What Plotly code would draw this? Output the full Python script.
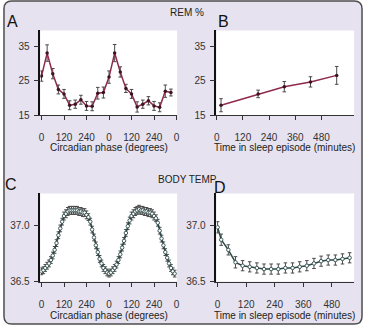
import plotly.graph_objects as go

W, H = 366, 331

# ---- REM % by circadian phase (double plotted, 30-degree bins) ----
rem_phase = [0, 30, 60, 90, 120, 150, 180, 210, 240, 270, 300, 330,
             360, 390, 420, 450, 480, 510, 540, 570, 600, 630, 660, 690]
rem_by_phase = [26.4, 33.1, 27.1, 22.5, 21.2, 17.9, 18.2, 19.5, 17.7, 17.6, 21.4, 21.6,
                26.1, 33.1, 27.6, 22.8, 21.2, 17.4, 18.2, 19.2, 17.7, 17.3, 22.0, 21.6]
rem_by_phase_err = [1.5, 2.4, 1.5, 1.3, 1.3, 1.3, 1.2, 1.3, 1.3, 1.3, 1.7, 1.6,
                    1.8, 2.5, 1.5, 1.2, 1.3, 1.5, 1.2, 1.2, 1.3, 1.3, 1.8, 1.0]

# ---- REM % by time in sleep episode ----
rem_time = [20, 190, 310, 430, 550]
rem_by_time = [17.9, 21.2, 23.3, 24.7, 26.6]
rem_by_time_err = [1.9, 1.1, 1.5, 1.5, 2.6]

# ---- Body temperature by circadian phase (double plotted, 10-degree bins) ----
temp_phase = [0, 10, 20, 30, 40, 50, 60, 70, 80, 90, 100, 110,
              120, 130, 140, 150, 160, 170, 180, 190, 200, 210, 220, 230,
              240, 250, 260, 270, 280, 290, 300, 310, 320, 330, 340, 350,
              360, 370, 380, 390, 400, 410, 420, 430, 440, 450, 460, 470,
              480, 490, 500, 510, 520, 530, 540, 550, 560, 570, 580, 590,
              600, 610, 620, 630, 640, 650, 660, 670, 680, 690, 700, 710]
temp_by_phase = [36.59, 36.60, 36.62, 36.64, 36.66, 36.69, 36.73, 36.78, 36.84, 36.91, 36.97, 37.03,
                 37.08, 37.10, 37.12, 37.13, 37.13, 37.13, 37.13, 37.13, 37.12, 37.12, 37.11, 37.11,
                 37.09, 37.07, 37.03, 36.96, 36.89, 36.82, 36.76, 36.70, 36.66, 36.62, 36.60, 36.58,
                 36.57, 36.58, 36.60, 36.62, 36.65, 36.69, 36.74, 36.80, 36.86, 36.93, 36.99, 37.04,
                 37.08, 37.10, 37.12, 37.13, 37.14, 37.13, 37.13, 37.12, 37.12, 37.11, 37.11, 37.10,
                 37.08, 37.06, 37.02, 36.95, 36.88, 36.82, 36.76, 36.71, 36.66, 36.62, 36.59, 36.57]
temp_by_phase_err = [0.030, 0.030, 0.030, 0.030, 0.030, 0.030, 0.030, 0.030, 0.030, 0.030, 0.030, 0.030,
                     0.035, 0.035, 0.035, 0.035, 0.035, 0.035, 0.035, 0.035, 0.035, 0.035, 0.035, 0.035,
                     0.035, 0.030, 0.030, 0.030, 0.030, 0.030, 0.030, 0.030, 0.030, 0.030, 0.030, 0.030,
                     0.030, 0.030, 0.030, 0.030, 0.030, 0.030, 0.030, 0.030, 0.030, 0.030, 0.030, 0.030,
                     0.035, 0.035, 0.035, 0.035, 0.035, 0.035, 0.035, 0.035, 0.035, 0.035, 0.035, 0.035,
                     0.035, 0.030, 0.030, 0.030, 0.030, 0.030, 0.030, 0.030, 0.030, 0.030, 0.030, 0.030]

# ---- Body temperature by time in sleep episode ----
temp_time = [0, 15, 45, 75, 105, 135, 165, 195, 225, 255,
             285, 315, 345, 375, 405, 435, 465, 495, 525, 555]
temp_by_time = [36.98, 36.87, 36.78, 36.67, 36.64, 36.63, 36.62, 36.61, 36.61, 36.61,
                36.62, 36.62, 36.63, 36.64, 36.66, 36.68, 36.69, 36.69, 36.70, 36.71]
temp_by_time_err = [0.050, 0.050, 0.045, 0.050, 0.045, 0.045, 0.045, 0.045, 0.045, 0.045,
                    0.045, 0.045, 0.045, 0.045, 0.045, 0.045, 0.045, 0.045, 0.045, 0.045]

phase_ticks = [0, 120, 240, 360, 480, 600, 720]
phase_ticktext = ["0", "120", "240", "0", "120", "240", "0"]
time_ticks = [0, 120, 240, 360, 480]

REM_LINE = "#8e2a4a"
REM_MARK = "#3b1424"
TEMP_LINE = "#2c4a47"
ERR = "#4a4a4a"
BG = "#e6e2ef"
FONT = "Liberation Sans"

fig = go.Figure()


def add_series(x, y, err, xa, ya, line_color, marker):
    fig.add_trace(go.Scatter(
        x=x, y=y, xaxis=xa, yaxis=ya, mode="lines+markers",
        line=dict(color=line_color, width=1.5),
        marker=marker,
        error_y=dict(type="data", array=err, color=ERR, thickness=1, width=1.8),
        showlegend=False, hoverinfo="skip",
    ))


rem_marker = dict(size=3.5, color=REM_MARK, line=dict(width=0))
temp_marker = dict(size=3.5, color="white", line=dict(width=0.9, color=TEMP_LINE))

add_series(rem_phase, rem_by_phase, rem_by_phase_err, "x", "y", REM_LINE, rem_marker)
add_series(rem_time, rem_by_time, rem_by_time_err, "x2", "y2", REM_LINE, rem_marker)
add_series(temp_phase, temp_by_phase, temp_by_phase_err, "x3", "y3", TEMP_LINE, temp_marker)
add_series(temp_time, temp_by_time, temp_by_time_err, "x4", "y4", TEMP_LINE, temp_marker)


def px_x(p):
    return p / W


def px_y(p):
    return 1 - p / H


left_dom = [px_x(38), px_x(177)]
right_dom = [px_x(217), px_x(357)]
top_dom = [px_y(117.3), px_y(31)]
bot_dom = [px_y(286.7), px_y(197)]

tickfont = dict(family=FONT, size=10, color="#333333")


def xaxis(dom, rng, anchor, vals, text=None):
    d = dict(domain=dom, range=rng, anchor=anchor, showgrid=False, zeroline=False,
             showline=True, linecolor="#333333", linewidth=1,
             ticks="outside", ticklen=4, tickwidth=1, tickcolor="#333333",
             tickvals=vals, tickfont=tickfont, ticklabelstandoff=9, fixedrange=True)
    if text is not None:
        d["ticktext"] = text
    return d


def yaxis(dom, rng, anchor, vals, fmt=None):
    d = dict(domain=dom, range=rng, anchor=anchor, showgrid=False, zeroline=False,
             showline=True, linecolor="#111111", linewidth=1.5,
             ticks="outside", ticklen=5, tickwidth=1, tickcolor="#333333",
             tickvals=vals, tickfont=tickfont, ticklabelstandoff=2, fixedrange=True)
    if fmt:
        d["tickformat"] = fmt
    return d


# background panel with rounded corners, then white plot areas on top of it
r = 8
x0, y0, x1, y1 = 1, 1, W - 1, H - 1


def P(x, y):
    return f"{px_x(x):.5f},{px_y(y):.5f}"


panel_path = (f"M {P(x0 + r, y0)} L {P(x1 - r, y0)} Q {P(x1, y0)} {P(x1, y0 + r)} "
              f"L {P(x1, y1 - r)} Q {P(x1, y1)} {P(x1 - r, y1)} "
              f"L {P(x0 + r, y1)} Q {P(x0, y1)} {P(x0, y1 - r)} "
              f"L {P(x0, y0 + r)} Q {P(x0, y0)} {P(x0 + r, y0)} Z")

shapes = [dict(type="path", path=panel_path, xref="paper", yref="paper",
               fillcolor=BG, line=dict(color="#4d4d4d", width=1.5), layer="below")]
for xr, yr in [("x", "y"), ("x2", "y2"), ("x3", "y3"), ("x4", "y4")]:
    shapes.append(dict(type="rect", xref=f"{xr} domain", yref=f"{yr} domain",
                       x0=0, x1=1, y0=0, y1=1, fillcolor="white",
                       line=dict(width=0), layer="below"))

annotations = []


def text(s, x, y, size, color="#222222"):
    annotations.append(dict(text=s, x=px_x(x), y=px_y(y), xref="paper", yref="paper",
                            showarrow=False, xanchor="center", yanchor="middle",
                            font=dict(family=FONT, size=size, color=color)))


text("A", 10, 22, 16, "#111111")
text("B", 224, 22, 16, "#111111")
text("C", 8, 188, 16, "#111111")
text("D", 221, 191, 16, "#111111")
text("REM %", 186.7, 12.7, 10)
text("BODY TEMP", 188, 183.3, 10)
text("Circadian phase (degrees)", 108, 150, 10)
text("Time in sleep episode (minutes)", 286.5, 150, 10)
text("Circadian phase (degrees)", 108, 321.7, 10)
text("Time in sleep episode (minutes)", 286.5, 321.7, 10)

fig.update_layout(
    width=W, height=H, margin=dict(l=0, r=0, t=0, b=0),
    paper_bgcolor="white", plot_bgcolor="rgba(0,0,0,0)",
    xaxis=xaxis(left_dom, [-6, 723], "y", phase_ticks, phase_ticktext),
    yaxis=yaxis(top_dom, [15, 39.7], "x", [15, 25, 35]),
    xaxis2=xaxis(right_dom, [-1, 630], "y2", time_ticks),
    yaxis2=yaxis(top_dom, [15, 39.7], "x2", [15, 25, 35]),
    xaxis3=xaxis(left_dom, [-6, 723], "y3", phase_ticks, phase_ticktext),
    yaxis3=yaxis(bot_dom, [36.5, 37.28], "x3", [36.5, 37.0], ".1f"),
    xaxis4=xaxis(right_dom, [-5, 574], "y4", time_ticks),
    yaxis4=yaxis(bot_dom, [36.5, 37.28], "x4", [36.5, 37.0], ".1f"),
    shapes=shapes, annotations=annotations,
)

fig.write_html("out.html")
